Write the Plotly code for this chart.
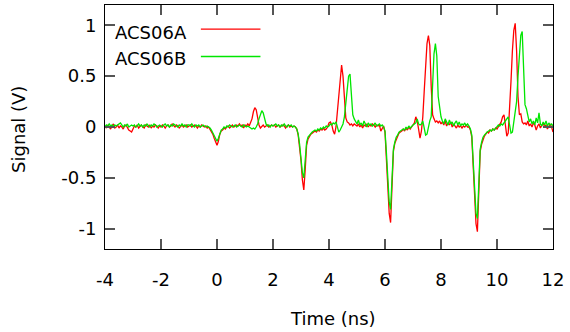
import numpy as np
import plotly.graph_objects as go

# time grid (ns), 0.05 ns step
time_ns = np.round(np.arange(-4.0, 12.0001, 0.05), 2)

acs06a = [
    # -4.00 .. -3.05
    0.01, -0.01, 0.02, 0.00, -0.02, 0.01, 0.03, -0.01, 0.00, 0.02, -0.01, 0.01, 0.00, -0.02, 0.01, 0.02, -0.01, -0.03, -0.04, -0.05,
    # -3.00 .. -2.05
    -0.02, 0.01, 0.00, 0.02, -0.01, 0.01, 0.02, 0.00, -0.01, 0.02, 0.01, 0.00, 0.02, -0.01, 0.01, 0.00, 0.02, 0.01, -0.01, 0.01,
    # -2.00 .. -1.05
    0.00, 0.02, 0.01, -0.01, 0.01, 0.02, 0.00, 0.01, 0.03, 0.01, 0.00, 0.02, 0.01, -0.01, 0.01, 0.02, 0.00, 0.01, 0.02, 0.00,
    # -1.00 .. -0.05
    0.01, 0.02, 0.00, 0.01, 0.02, 0.01, -0.01, 0.01, 0.00, 0.02, 0.01, 0.00, 0.01, -0.01, 0.00, -0.02, -0.04, -0.07, -0.11, -0.15,
    # 0.00 .. 0.95
    -0.18, -0.14, -0.07, -0.04, -0.03, -0.01, -0.02, 0.00, 0.01, -0.01, 0.01, 0.02, 0.00, 0.01, 0.02, 0.01, 0.03, 0.01, 0.02, -0.01,
    # 1.00 .. 1.95
    0.02, 0.01, 0.03, 0.01, 0.04, 0.08, 0.15, 0.19, 0.17, 0.09, 0.02, -0.01, 0.01, 0.02, 0.00, 0.01, 0.02, 0.00, 0.01, 0.02,
    # 2.00 .. 2.95
    0.01, 0.02, 0.00, 0.01, 0.02, 0.00, 0.01, 0.02, 0.01, -0.01, 0.01, 0.02, 0.00, 0.01, 0.00, 0.01, 0.00, -0.02, -0.08, -0.18,
    # 3.00 .. 3.95
    -0.33, -0.52, -0.62, -0.42, -0.18, -0.12, -0.09, -0.07, -0.06, -0.05, -0.04, -0.05, -0.03, -0.04, -0.02, -0.03, -0.01, -0.03, -0.02, 0.00,
    # 4.00 .. 4.95
    0.04, 0.05, 0.02, -0.04, -0.07, 0.00, 0.15, 0.35, 0.52, 0.61, 0.50, 0.25, 0.09, 0.05, 0.04, 0.02, 0.03, 0.01, 0.03, 0.02,
    # 5.00 .. 5.95
    0.01, 0.03, 0.00, 0.02, -0.01, 0.02, 0.01, 0.03, 0.00, 0.02, 0.01, 0.03, 0.02, 0.00, 0.02, 0.01, 0.02, -0.04, -0.01, 0.01,
    # 6.00 .. 6.95
    -0.05, -0.30, -0.60, -0.85, -0.94, -0.55, -0.24, -0.16, -0.12, -0.09, -0.06, -0.05, -0.04, -0.02, -0.04, -0.01, -0.03, 0.00, -0.02, 0.00,
    # 7.00 .. 7.95
    0.02, 0.04, 0.10, 0.06, -0.02, -0.11, -0.04, 0.10, 0.35, 0.62, 0.82, 0.90, 0.80, 0.40, 0.12, 0.08, 0.05, 0.06, 0.04, 0.06,
    # 8.00 .. 8.95
    0.03, 0.05, 0.02, 0.06, 0.01, 0.04, 0.02, 0.05, 0.00, 0.03, 0.01, -0.01, 0.02, 0.00, 0.01, -0.01, 0.01, 0.00, 0.02, 0.00,
    # 9.00 .. 9.95
    0.00, -0.03, -0.10, -0.40, -0.72, -0.95, -1.03, -0.60, -0.24, -0.17, -0.12, -0.09, -0.07, -0.05, -0.06, -0.03, -0.04, -0.02, -0.03, -0.01,
    # 10.00 .. 10.95
    -0.02, 0.00, 0.02, 0.05, 0.10, 0.12, 0.02, -0.09, -0.06, 0.15, 0.45, 0.75, 0.95, 1.02, 0.75, 0.30, 0.12, 0.13, 0.05, 0.03,
    # 11.00 .. 11.95
    0.04, 0.02, 0.06, 0.01, 0.03, 0.00, 0.04, 0.02, -0.03, 0.01, 0.03, -0.01, 0.02, 0.04, 0.00, 0.02, -0.02, 0.01, 0.03, 0.00,
    # 12.00
    -0.05,
]

acs06b = [
    # -4.00 .. -3.05
    0.00, 0.02, 0.01, 0.03, 0.01, 0.02, 0.00, 0.02, 0.01, 0.02, 0.03, 0.04, 0.02, 0.00, 0.02, 0.01, 0.03, 0.00, 0.01, 0.02,
    # -3.00 .. -2.05
    0.01, 0.02, 0.00, 0.01, 0.03, 0.01, 0.02, 0.00, 0.02, 0.01, 0.03, 0.01, 0.00, 0.02, 0.01, 0.03, 0.02, 0.00, 0.01, 0.02,
    # -2.00 .. -1.05
    0.01, 0.00, 0.02, 0.03, 0.01, 0.02, 0.00, 0.02, 0.01, 0.03, 0.02, 0.01, 0.00, 0.02, 0.01, 0.03, 0.01, 0.02, 0.00, 0.02,
    # -1.00 .. -0.05
    0.02, 0.01, 0.03, 0.01, 0.00, 0.02, 0.01, 0.02, 0.00, 0.01, 0.02, 0.01, 0.00, 0.01, 0.00, -0.01, -0.03, -0.06, -0.09, -0.12,
    # 0.00 .. 0.95
    -0.14, -0.11, -0.06, -0.03, -0.02, 0.00, -0.01, 0.01, 0.00, 0.02, 0.01, 0.00, 0.01, 0.02, 0.00, 0.01, 0.02, 0.01, 0.00, 0.02,
    # 1.00 .. 1.95
    0.01, 0.00, 0.01, 0.00, -0.01, -0.02, -0.01, -0.02, 0.00, 0.03, 0.08, 0.13, 0.16, 0.14, 0.07, 0.03, 0.01, 0.02, 0.00, 0.02,
    # 2.00 .. 2.95
    0.01, 0.02, 0.03, 0.01, 0.02, 0.00, 0.02, 0.01, 0.03, 0.01, 0.00, 0.02, 0.01, 0.02, 0.00, 0.01, 0.00, -0.02, -0.07, -0.17,
    # 3.00 .. 3.95
    -0.30, -0.45, -0.50, -0.35, -0.15, -0.10, -0.08, -0.06, -0.05, -0.04, -0.03, -0.04, -0.02, -0.03, -0.01, -0.02, 0.00, -0.01, 0.01, 0.00,
    # 4.00 .. 4.95
    0.01, 0.03, 0.02, 0.04, 0.03, 0.05, 0.00, -0.05, -0.03, 0.00, 0.03, 0.10, 0.25, 0.42, 0.50, 0.52, 0.35, 0.12, 0.08, 0.05,
    # 5.00 .. 5.95
    0.03, 0.07, 0.02, 0.04, 0.01, 0.06, 0.03, 0.00, 0.04, 0.02, 0.03, 0.01, 0.02, 0.04, 0.01, 0.02, 0.03, 0.01, 0.02, 0.00,
    # 6.00 .. 6.95
    -0.04, -0.25, -0.52, -0.74, -0.81, -0.50, -0.22, -0.15, -0.10, -0.08, -0.05, -0.04, -0.03, -0.02, -0.03, 0.00, -0.02, 0.01, -0.01, 0.01,
    # 7.00 .. 7.95
    0.02, 0.03, 0.04, 0.08, 0.03, 0.02, 0.03, 0.06, 0.00, -0.08, -0.07, 0.00, 0.06, 0.10, 0.45, 0.72, 0.82, 0.70, 0.30, 0.17,
    # 8.00 .. 8.95
    0.10, 0.06, 0.03, 0.08, 0.04, 0.02, 0.07, 0.03, 0.05, 0.01, 0.04, 0.06, 0.02, 0.05, 0.01, 0.03, 0.02, 0.04, 0.01, 0.03,
    # 9.00 .. 9.95
    0.01, -0.02, -0.08, -0.35, -0.65, -0.85, -0.90, -0.55, -0.22, -0.15, -0.10, -0.08, -0.06, -0.05, -0.04, -0.03, -0.04, -0.02, -0.03, -0.01,
    # 10.00 .. 10.95
    0.00, 0.02, 0.01, 0.03, 0.02, 0.04, 0.06, 0.08, 0.10, 0.02, -0.06, -0.05, 0.05, 0.10, 0.25, 0.50, 0.75, 0.90, 0.94, 0.60,
    # 11.00 .. 11.95
    0.22, 0.18, 0.10, 0.05, 0.08, 0.03, 0.06, 0.02, 0.09, 0.04, 0.14, 0.03, 0.01, 0.05, 0.02, 0.06, 0.01, 0.04, 0.02, 0.03,
    # 12.00
    0.01,
]

series_names = ["ACS06A", "ACS06B"]
series_colors = ["#ff0000", "#00e600"]
x_tick_vals = [-4, -2, 0, 2, 4, 6, 8, 10, 12]
x_tick_text = ["-4", "-2", "0", "2", "4", "6", "8", "10", "12"]
y_tick_vals = [1, 0.5, 0, -0.5, -1]
y_tick_text = ["1", "0.5", "0", "-0.5", "-1"]

FONT = "DejaVu Sans"
FS = 18

fig = go.Figure()
for name, vals, col in zip(series_names, [acs06a, acs06b], series_colors):
    fig.add_trace(go.Scatter(x=time_ns, y=vals, mode="lines", name=name,
                             line=dict(color=col, width=1.3), showlegend=False))

axis_common = dict(showline=True, mirror="allticks", linecolor="black", linewidth=1,
                   ticks="inside", ticklen=10, tickcolor="#555555", tickwidth=1.5,
                   showgrid=False, zeroline=False,
                   tickfont=dict(family=FONT, size=FS, color="black"))

fig.update_layout(
    width=570, height=332,
    margin=dict(l=105, r=17, t=5, b=83, pad=0),
    paper_bgcolor="white", plot_bgcolor="white",
    font=dict(family=FONT, size=FS, color="black"),
    xaxis=dict(range=[-4, 12], tickvals=x_tick_vals, ticktext=x_tick_text,
               ticklabelstandoff=14, automargin=False, **axis_common),
    yaxis=dict(range=[-1.2, 1.2], tickvals=y_tick_vals, ticktext=y_tick_text,
               ticklabelstandoff=4, automargin=False, **axis_common),
)

# axis titles
fig.add_annotation(text="Time (ns)", xref="paper", yref="paper", x=0.51, y=-0.285,
                   showarrow=False, xanchor="center", yanchor="middle",
                   font=dict(family=FONT, size=FS, color="black"))
fig.add_annotation(text="Signal (V)", xref="paper", yref="paper", x=-0.193, y=0.49,
                   showarrow=False, textangle=-90, xanchor="center", yanchor="middle",
                   font=dict(family=FONT, size=FS, color="black"))

# gnuplot-style key: label then line sample
key_rows = [(0.887, 0.901), (0.781, 0.789)]
for name, col, (ty, ly) in zip(series_names, series_colors, key_rows):
    fig.add_annotation(text=name, xref="paper", yref="paper", x=0.018, y=ty,
                       showarrow=False, xanchor="left", yanchor="middle",
                       font=dict(family=FONT, size=FS, color="black"))
    fig.add_shape(type="line", xref="paper", yref="paper", x0=0.214, x1=0.347,
                  y0=ly, y1=ly, line=dict(color=col, width=1.3))

fig.write_html("out.html", config={"displayModeBar": False},
               post_script="document.body.style.margin='0';document.body.style.padding='0';")
